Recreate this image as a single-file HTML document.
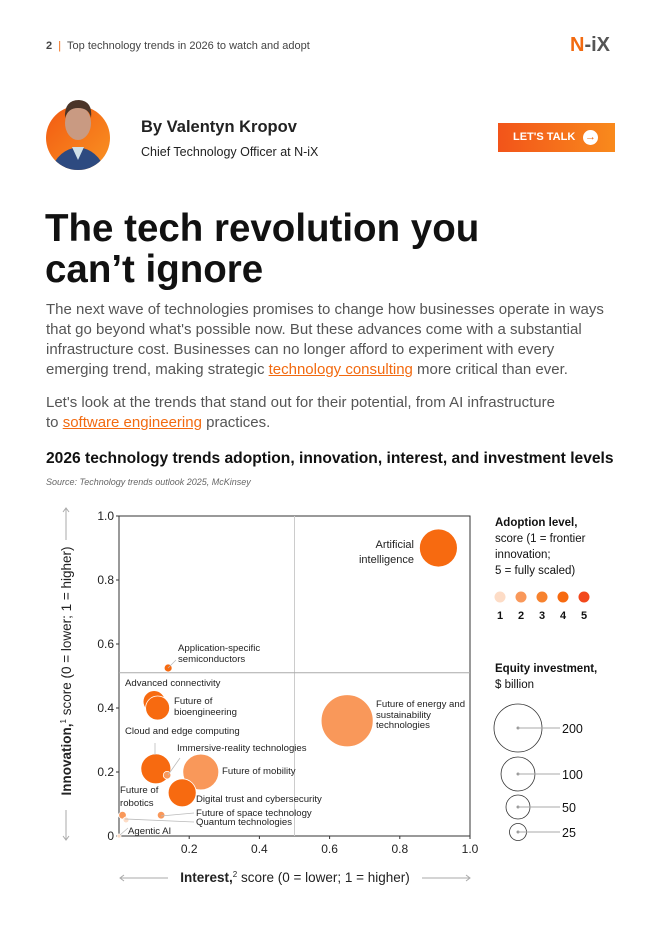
<!DOCTYPE html>
<html><head><meta charset="utf-8"><style>
body{margin:0;width:662px;height:936px;background:#fff;position:relative;font-family:"Liberation Sans",sans-serif;overflow:hidden}
.a{position:absolute;white-space:nowrap}
.p{position:absolute;left:46px;font-size:15px;line-height:20px;color:#555;white-space:nowrap}
.p a{color:#f26a10;text-decoration:underline}
</style></head><body>
<div class="a" style="left:46px;top:40px;font-size:11px;color:#444"><b>2</b> &nbsp;<span style="color:#f26a10">|</span>&nbsp; Top technology trends in 2026 to watch and adopt</div>
<div class="a" style="left:570px;top:34px;font-size:20px;font-weight:bold;color:#f26a10">N<span style="color:#555">-iX</span></div>
<svg class="a" style="left:44px;top:90px" width="70" height="88"><defs><linearGradient id="pg" x1="0" y1="0" x2="1" y2="1"><stop offset="0" stop-color="#f25a12"/><stop offset="1" stop-color="#f99322"/></linearGradient><clipPath id="cp"><path d="M2 0 H66 V48 A32 32 0 0 1 2 48Z"/></clipPath></defs><circle cx="34" cy="48" r="32" fill="url(#pg)"/><g clip-path="url(#cp)"><path d="M6 84 Q12 60 34 57 Q56 60 62 84Z" fill="#2d4a80"/><path d="M28 57 L34 70 L40 57Z" fill="#cfe0e8"/><ellipse cx="34" cy="33" rx="13" ry="17" fill="#c99a82"/><path d="M21 28 Q20 10 35 10 Q49 11 47 28 Q45 18 34 18 Q24 18 21 28Z" fill="#4a3428"/></g></svg>
<div class="a" style="left:141px;top:118px;font-size:16.5px;font-weight:bold;color:#222">By Valentyn Kropov</div>
<div class="a" style="left:141px;top:145px;font-size:12.5px;color:#222">Chief Technology Officer at N-iX</div>
<div class="a" style="left:498px;top:123px;width:117px;height:29px;background:linear-gradient(90deg,#f2541a,#f98a1c);color:#fff;font-size:11px;font-weight:bold;line-height:29px"><span style="margin-left:15px">LET'S TALK</span><span style="position:absolute;left:85px;top:7px;width:15px;height:15px;border-radius:50%;background:#fff;color:#f26a10;font-size:11px;line-height:15px;text-align:center">→</span></div>
<div class="a" style="left:45px;top:208px;font-size:38.5px;line-height:41px;font-weight:bold;color:#111">The tech revolution you<br>can’t ignore</div>
<div class="p" style="top:300px">The next wave of technologies promises to change how businesses operate in ways<br>that go beyond what's possible now. But these advances come with a substantial<br>infrastructure cost. Businesses can no longer afford to experiment with every<br>emerging trend, making strategic <a>technology consulting</a> more critical than ever.</div>
<div class="p" style="top:393px">Let's look at the trends that stand out for their potential, from AI infrastructure<br>to <a>software engineering</a> practices.</div>
<div class="a" style="left:46px;top:450px;font-size:15.6px;font-weight:bold;color:#111">2026 technology trends adoption, innovation, interest, and investment levels</div>
<div class="a" style="left:46px;top:477px;font-size:9px;font-style:italic;color:#666">Source: Technology trends outlook 2025, McKinsey</div>
<svg id="chart" class="a" style="left:0;top:0" width="662" height="936" font-family="Liberation Sans, sans-serif"></svg>
<script>
const names=["Artificial intelligence","Application-specific semiconductors","Advanced connectivity","Future of bioengineering","Future of energy and sustainability technologies","Cloud and edge computing","Immersive-reality technologies","Future of mobility","Digital trust and cybersecurity","Future of robotics","Future of space technology","Quantum technologies","Agentic AI"];
const interest=[0.91,0.14,0.10,0.11,0.65,0.105,0.137,0.233,0.18,0.01,0.12,0.02,0.0];
const innovation=[0.90,0.525,0.42,0.40,0.36,0.21,0.19,0.20,0.135,0.065,0.065,0.05,0.0];
const investment=[125,5.5,42,50,235,78,5,112,68,5,5,3,1.4];
const adoption=[4,4,4,4,2,4,2,2,4,2,2,1,1];
const xTicks=[0.2,0.4,0.6,0.8,1.0];
const yTicks=[0,0.2,0.4,0.6,0.8,1.0];
const legendLevels=[1,2,3,4,5];
const legendSizes=[200,100,50,25];
const colors={1:"#fddcc6",2:"#f9985a",3:"#f7822e",4:"#f76a10",5:"#f2481c"};
const X0=119,X1=470,Y0=836,Y1=516;
const xs=v=>X0+v*(X1-X0), ys=v=>Y0-v*(Y0-Y1), rs=v=>24*Math.sqrt(v/200);
const svg=document.getElementById('chart'),NS="http://www.w3.org/2000/svg";
function mk(t,a,txt){const e=document.createElementNS(NS,t);for(const k in a)e.setAttribute(k,a[k]);if(txt!==undefined)e.textContent=txt;svg.appendChild(e);return e;}
let f=mk('rect',{x:X0,y:Y1,width:X1-X0,height:Y0-Y1,fill:'none',stroke:'#333','stroke-width':1});


let l=mk('line',{x1:xs(0.5),x2:xs(0.5),y1:Y1,y2:Y0,stroke:'#ccc'});


l=mk('line',{x1:X0,x2:X1,y1:ys(0.51),y2:ys(0.51),stroke:'#aaa'});


xTicks.forEach(v=>{let t=mk('text',{x:xs(v),y:Y0+17,'font-size':12,'text-anchor':'middle',fill:'#222'},v.toFixed(1));


mk('line',{x1:xs(v),x2:xs(v),y1:Y0,y2:Y0+3,stroke:'#333'});});
yTicks.forEach(v=>{let t=mk('text',{x:X0-5,y:ys(v)+4,'font-size':12,'text-anchor':'end',fill:'#222'},v===0?'0':v.toFixed(1));


mk('line',{x1:X0-3,x2:X0,y1:ys(v),y2:ys(v),stroke:'#333'});});
let xt=mk('text',{x:295,y:882,'font-size':13.5,'text-anchor':'middle',fill:'#222'});
xt.innerHTML='<tspan font-weight="bold">Interest,</tspan><tspan font-size="8" dy="-5">2</tspan><tspan dy="5"> score (0 = lower; 1 = higher)</tspan>';


mk('line',{x1:120,x2:168,y1:878,y2:878,stroke:'#aaa'});mk('line',{x1:422,x2:470,y1:878,y2:878,stroke:'#aaa'});
mk('path',{d:'M124 875 L120 878 L124 881 M466 875 L470 878 L466 881',fill:'none',stroke:'#aaa'});
let yt=mk('text',{x:0,y:0,'font-size':13.5,'text-anchor':'middle',fill:'#222',transform:'translate(71,671) rotate(-90)'});
yt.innerHTML='<tspan font-weight="bold">Innovation,</tspan><tspan font-size="8" dy="-5">1</tspan><tspan dy="5"> score (0 = lower; 1 = higher)</tspan>';


mk('line',{x1:66,x2:66,y1:508,y2:540,stroke:'#aaa'});mk('line',{x1:66,x2:66,y1:810,y2:840,stroke:'#aaa'});
mk('path',{d:'M63 512 L66 508 L69 512 M63 836 L66 840 L69 836',fill:'none',stroke:'#aaa'});
names.forEach((n,i)=>{let c=mk('circle',{cx:xs(interest[i]),cy:ys(innovation[i]),r:Math.max(2,rs(investment[i])),fill:colors[adoption[i]],stroke:'#fff','stroke-width':0.8});

});
const labels=[["Artificial",414,548,"end"],["intelligence",414,563,"end"],["Application-specific",178,651],["semiconductors",178,662],["Advanced connectivity",125,686],["Future of",174,704],["bioengineering",174,715],["Future of energy and",376,707],["sustainability",376,718],["technologies",376,728],["Cloud and edge computing",125,734],["Immersive-reality technologies",177,751],["Future of mobility",222,774],["Future of",120,793],["robotics",120,806],["Digital trust and cybersecurity",196,802],["Future of space technology",196,816],["Quantum technologies",196,825],["Agentic AI",128,834]];
labels.forEach(a=>{let t=mk('text',{x:a[1],y:a[2],'font-size':a[0].length<13&&a[2]<570?11:9.6,'text-anchor':a[3]||'start',fill:'#222'},a[0]);

});
[[168,668,176,660],[155,755,155,743],[168,775,180,758],[125,819,194,822],[161,816,194,813],[120,835,128,828]].forEach(p=>mk('line',{x1:p[0],y1:p[1],x2:p[2],y2:p[3],stroke:'#bbb','stroke-width':0.8}));
let lt=mk('text',{x:495,y:526,'font-size':11.5,fill:'#111'});
lt.innerHTML='<tspan font-weight="bold">Adoption level,</tspan><tspan x="495" dy="16">score (1 = frontier</tspan><tspan x="495" dy="16">innovation;</tspan><tspan x="495" dy="16">5 = fully scaled)</tspan>';


legendLevels.forEach((v,i)=>{let c=mk('circle',{cx:500+i*21,cy:597,r:5.5,fill:colors[v]});


mk('text',{x:500+i*21,y:619,'font-size':11,'font-weight':'bold','text-anchor':'middle',fill:'#111'},String(v));});
let et=mk('text',{x:495,y:672,'font-size':11.5,fill:'#111'});
et.innerHTML='<tspan font-weight="bold">Equity investment,</tspan><tspan x="495" dy="16">$ billion</tspan>';


const legY=[728,774,807,832];
legendSizes.forEach((v,i)=>{let c=mk('circle',{cx:518,cy:legY[i],r:rs(v),fill:'none',stroke:'#333','stroke-width':0.8});


mk('circle',{cx:518,cy:legY[i],r:1.5,fill:'#999'});
mk('line',{x1:518,x2:560,y1:legY[i],y2:legY[i],stroke:'#aaa'});
mk('text',{x:562,y:legY[i]+5,'font-size':12.5,fill:'#111'},String(v));});
</script>
</body></html>
